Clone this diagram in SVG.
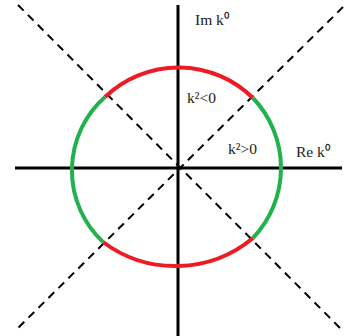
<svg xmlns="http://www.w3.org/2000/svg" width="347" height="336" viewBox="0 0 347 336">
<style>
.axis{stroke:#000;stroke-width:3;fill:none}
.diag{stroke:#000;stroke-width:2;stroke-dasharray:8 6;fill:none}
.neg{stroke:#ed1c24;stroke-width:4;fill:none;stroke-linecap:butt}
.pos{stroke:#22b14c;stroke-width:4;fill:none;stroke-linecap:butt}
text{font-family:"Liberation Serif","Times New Roman",serif;font-size:15.5px;fill:#1a1a1a}
</style>
<rect width="347" height="336" fill="#fff"/>
<g id="connectors">
<line class="diag" x1="18" y1="5" x2="343" y2="331"/>
<line class="diag" x1="343" y1="7" x2="15" y2="331"/>
<line class="axis" x1="178" y1="5" x2="178" y2="336"/>
<line class="axis" x1="15" y1="168" x2="342" y2="168"/>
</g>
<g id="arc-top"><path class="neg" d="M105,97 A106,106 0 0 1 253,98"/></g>
<g id="arc-bottom"><path class="neg" d="M103,242 A121,121 0 0 0 253,238"/></g>
<g id="arc-left"><path class="pos" d="M105,97 A98,98 0 0 0 103,242"/></g>
<g id="arc-right"><path class="pos" d="M253,98 A101.5,101.5 0 0 1 253,238"/></g>
<g id="label-im"><text x="195" y="25">Im k⁰</text></g>
<g id="label-re"><text x="296" y="157">Re k⁰</text></g>
<g id="label-neg"><text x="187" y="103">k²&lt;0</text></g>
<g id="label-pos"><text x="228" y="154">k²&gt;0</text></g>
</svg>
